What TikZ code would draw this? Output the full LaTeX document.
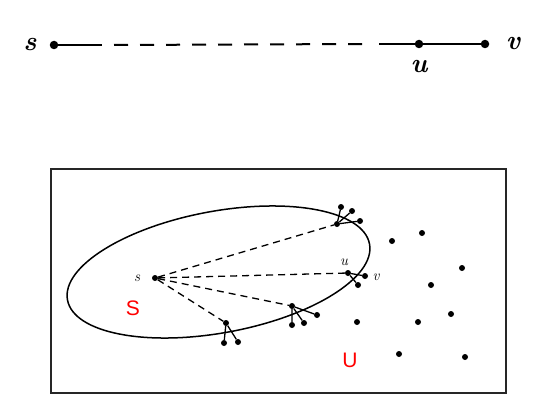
\documentclass[tikz,border=0pt]{standalone}
\usepackage{fontspec}
\newfontfamily\arialfont{Liberation Sans}
\begin{document}
\begin{tikzpicture}[x=1pt,y=-1pt,
  bigdot/.style={circle,fill=black,inner sep=0pt,minimum size=8.5pt},
  dot/.style={circle,fill=black,inner sep=0pt,minimum size=6pt},
  toplabel/.style={font=\fontsize{27}{30}\selectfont\bfseries\itshape,inner sep=0pt},
  inlabel/.style={font=\fontsize{15}{17}\selectfont\itshape,inner sep=0pt},
  redlabel/.style={font=\fontsize{21}{24}\selectfont\arialfont,text=red,inner sep=0pt},
  topline/.style={line width=2pt},
  topdash/.style={line width=2pt,dash pattern=on 14pt off 12pt},
  inedge/.style={line width=1.3pt},
  indash/.style={line width=1.3pt,dash pattern=on 7pt off 5pt},
  frame/.style={line width=1.7pt,draw=black!85}]
\useasboundingbox (0,0) rectangle (548,404);
% ---------- top path ----------
\node[bigdot] (S0) at (54,45) {};
\node[bigdot] (U0) at (419,44) {};
\node[bigdot] (V0) at (485,44) {};
\coordinate (a) at (102,45);
\coordinate (b) at (114,45);
\coordinate (c) at (365,44);
\coordinate (d) at (379,44);
\draw[topline] (S0) -- (a);
\draw[topdash] (b) -- (c);
\draw[topline] (d) -- (U0) -- (V0);
\node[toplabel] (S0l) at (30,45) {s};
\node[toplabel] (U0l) at (419,67) {u};
\node[toplabel] (V0l) at (513,43) {v};
% ---------- box ----------
\draw[frame] (51,169) rectangle (506,393);
% ---------- ellipse ----------
\draw[line width=1.5pt, rotate around={10.5:(218.5,272)}] (218.5,272) ellipse [x radius=153.6, y radius=60.8];
% ---------- nodes ----------
\node[dot] (s) at (155,278) {};
\node[inlabel] (sl) at (137,278) {s};
% top cluster
\node[dot] (t) at (337,224) {};
\node[dot] (ta) at (341,207) {};
\node[dot] (tb) at (352,211) {};
\node[dot] (tc) at (360,221) {};
% u cluster
\node[dot] (u) at (348,273) {};
\node[dot] (v) at (365,276) {};
\node[dot] (uc) at (358,285) {};
\node[inlabel] (ul) at (344,262) {u};
\node[inlabel] (vl) at (376,277) {v};
% third cluster
\node[dot] (r) at (292,306) {};
\node[dot] (ra) at (292,325) {};
\node[dot] (rb) at (304,323) {};
\node[dot] (rc) at (317,315) {};
% fourth cluster
\node[dot] (q) at (226,323) {};
\node[dot] (qa) at (224,343) {};
\node[dot] (qb) at (238,342) {};
% edges
\draw[inedge] (t) -- (ta) (t) -- (tb) (t) -- (tc);
\draw[inedge] (u) -- (v) (u) -- (uc);
\draw[inedge] (r) -- (ra) (r) -- (rb) (r) -- (rc);
\draw[inedge] (q) -- (qa) (q) -- (qb);
% dashed paths
\draw[indash] (s) -- (t);
\draw[indash] (s) -- (u);
\draw[indash] (s) -- (r);
\draw[indash] (s) -- (q);
% scattered vertices
\node[dot] (p1) at (392,241) {};
\node[dot] (p2) at (422,233) {};
\node[dot] (p3) at (462,268) {};
\node[dot] (p4) at (431,285) {};
\node[dot] (p5) at (451,314) {};
\node[dot] (p6) at (418,322) {};
\node[dot] (p7) at (357,322) {};
\node[dot] (p8) at (399,354) {};
\node[dot] (p9) at (465,357) {};
% red labels
\node[redlabel] (Sl) at (133,308) {S};
\node[redlabel] (Ul) at (350,360) {U};
\end{tikzpicture}
\end{document}
